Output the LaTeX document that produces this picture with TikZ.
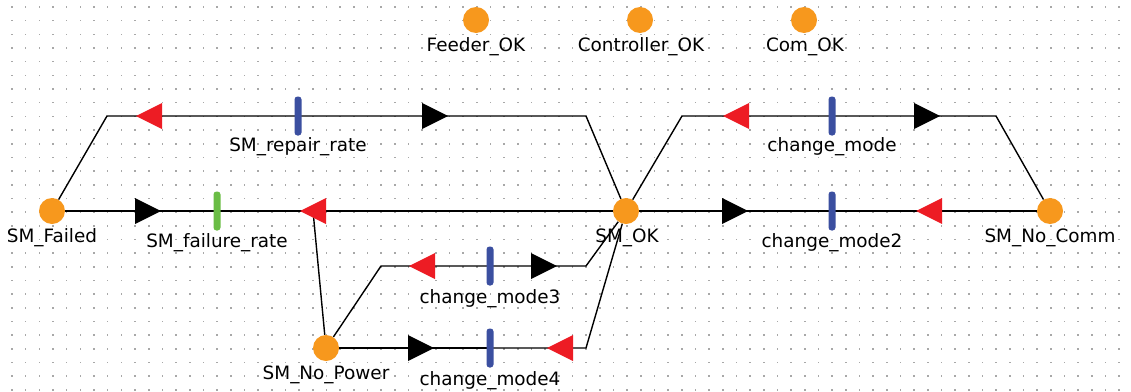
\documentclass[tikz,border=0pt]{standalone}
\usepackage{fontspec}
\setmainfont{DejaVu Sans}
\pgfdeclarelayer{bg}
\pgfsetlayers{bg,main}
\definecolor{placeor}{HTML}{F7981D}
\definecolor{arcred}{HTML}{ED1C24}
\definecolor{transblue}{HTML}{3B4FA0}
\definecolor{transgreen}{HTML}{6ABD45}
\definecolor{dotgray}{HTML}{A8A8A8}
\tikzset{
  place/.style={circle,fill=placeor,minimum size=26pt,inner sep=0pt},
  transbar/.style={rectangle,rounded corners=3pt,fill=transblue,minimum width=7pt,minimum height=39pt,inner sep=0pt},
  lbl/.style={anchor=base,inner sep=0pt,font=\fontsize{18.4}{22}\selectfont},
  arc/.style={line width=1.4pt,black},
  inhead/.pic={\fill[arcred] (-13,0) -- (13,-13) -- (13,13) -- cycle;},
  outhead/.pic={\fill[black] (13,0) -- (-13,-13) -- (-13,13) -- cycle;}
}
\begin{document}
\begin{tikzpicture}[x=1pt,y=-1pt]
\useasboundingbox (0,0) rectangle (1131,391);
\begin{pgfonlayer}{bg}
  \fill[white] (0,0) rectangle (1131,391);
  \foreach \i in {0,...,81} {
    \foreach \j in {0,...,28} {
      \fill[dotgray] ({12+13.67*\i-0.8},{7+13.67*\j-0.8}) rectangle ++(1.6,1.6);
    }
  }
\end{pgfonlayer}
% places
\node[place] (feeder) at (476,20) {};
\node[place] (ctrl) at (640,20) {};
\node[place] (com) at (804,20) {};
\node[place] (failed) at (52,211) {};
\node[place] (ok) at (626,211) {};
\node[place] (nocomm) at (1050,211) {};
\node[place] (nopower) at (326,348) {};
% transitions
\node[transbar] (rep) at (298,116) {};
\node[transbar,fill=transgreen] (fail) at (217,211) {};
\node[transbar] (cm) at (832,116) {};
\node[transbar] (cmtwo) at (832,211) {};
\node[transbar] (cmthree) at (490,266) {};
\node[transbar] (cmfour) at (490,348) {};
% labels
\node[lbl] (lfeeder) at (476,51) {Feeder\_OK};
\node[lbl] (lctrl) at (641,51) {Controller\_OK};
\node[lbl] (lcom) at (805,51) {Com\_OK};
\node[lbl] (lfailed) at (52,242) {SM\_Failed};
\node[lbl] (lok) at (627,242) {SM\_OK};
\node[lbl] (lnocomm) at (1050,242) {SM\_No\_Comm};
\node[lbl] (lnopower) at (326,379) {SM\_No\_Power};
\node[lbl] (lrep) at (298,151) {SM\_repair\_rate};
\node[lbl] (lfail) at (217,247) {SM\_failure\_rate};
\node[lbl] (lcm) at (832,151) {change\_mode};
\node[lbl] (lcmtwo) at (832,247) {change\_mode2};
\node[lbl] (lcmthree) at (490,303) {change\_mode3};
\node[lbl] (lcmfour) at (490,385) {change\_mode4};
% bend points
\coordinate (b1) at (107,116);
\coordinate (b2) at (586,116);
\coordinate (j1) at (313,211);
\coordinate (b4) at (682,116);
\coordinate (b5) at (996,116);
\coordinate (b6) at (381,266);
\coordinate (b7) at (586,266);
\coordinate (b8) at (586,348);
% arcs
\begin{pgfonlayer}{bg}
  \draw[arc] (failed) -- (b1) -- (rep.center);
  \draw[arc] (rep.center) -- (b2) -- (ok);
  \draw[arc] (failed) -- (fail.center);
  \draw[arc] (fail.center) -- (ok);
  \draw[arc] (nopower) -- (j1);
  \draw[arc] (ok) -- (cmtwo.center);
  \draw[arc] (cmtwo.center) -- (nocomm);
  \draw[arc] (ok) -- (b4) -- (cm.center);
  \draw[arc] (cm.center) -- (b5) -- (nocomm);
  \draw[arc] (nopower) -- (b6) -- (cmthree.center);
  \draw[arc] (cmthree.center) -- (b7) -- (ok);
  \draw[arc] (nopower) -- (cmfour.center);
  \draw[arc] (cmfour.center) -- (b8) -- (ok);
\end{pgfonlayer}
% arc heads
\pic at (149,116) {inhead};
\pic at (435,116) {outhead};
\pic at (148,211) {outhead};
\pic at (313,211) {inhead};
\pic at (735,211) {outhead};
\pic at (929,211) {inhead};
\pic at (736,116) {inhead};
\pic at (927,116) {outhead};
\pic at (422,266) {inhead};
\pic at (544,266) {outhead};
\pic at (421,348) {outhead};
\pic at (560,348) {inhead};
\end{tikzpicture}
\end{document}
